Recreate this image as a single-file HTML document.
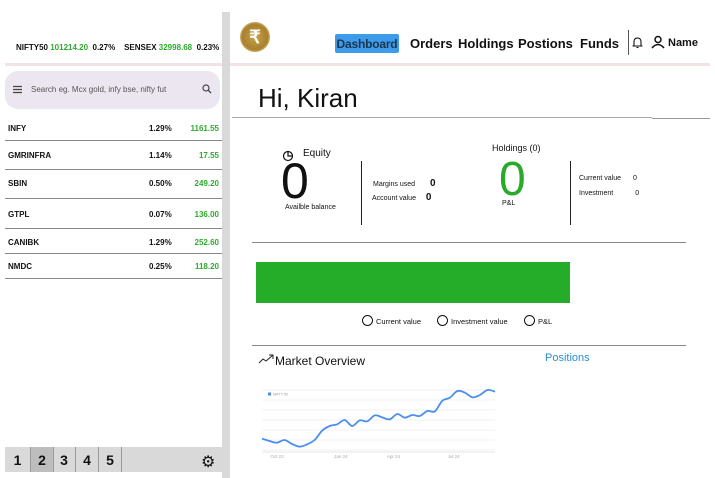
<!DOCTYPE html>
<html><head><meta charset="utf-8"><style>
body{margin:0;width:715px;height:478px;position:relative;overflow:hidden;background:#fff;font-family:"Liberation Sans",sans-serif;color:#111}
.a{position:absolute;white-space:nowrap}
.b{font-weight:bold}
.g{color:#2eaa2e}
.row{position:absolute;left:5px;width:217px;border-bottom:1px solid #888;font-size:8px;font-weight:bold}
.nav{position:absolute;top:36px;font-size:13px;font-weight:bold}
.circ{display:inline-block;width:9px;height:9px;border:1px solid #111;border-radius:50%;vertical-align:-2px;margin-right:3px}
</style></head><body>
<div class="a" style="left:222px;top:12px;width:8px;height:466px;background:#d9d9d9"></div>
<div class="a" style="left:5px;top:63px;width:217px;height:3px;background:#f2e2e4"></div>
<div class="a" style="left:230px;top:63px;width:480px;height:3px;background:#f2e2e4"></div>
<div class="a b" style="left:16px;top:43px;font-size:8px">NIFTY50 <span class="g">101214.20</span>&nbsp; 0.27% &nbsp;&nbsp; SENSEX <span class="g">32998.68</span>&nbsp; 0.23%</div>
<div class="a" style="left:5px;top:71px;width:215px;height:38px;background:#ece6f0;border-radius:13px">
<svg class="a" style="left:7px;top:14px" width="11" height="9"><path d="M1 1.5H10M1 4.5H10M1 7.5H10" stroke="#444" stroke-width="1.2"/></svg>
<div class="a" style="left:26px;top:14px;font-size:8px;color:#555">Search eg. Mcx gold, infy bse, nifty fut</div>
<svg class="a" style="left:197px;top:13px" width="10" height="10"><circle cx="4" cy="4" r="3" fill="none" stroke="#444" stroke-width="1.2"/><path d="M6.3 6.3L9 9" stroke="#444" stroke-width="1.3"/></svg>
</div>
<div class="row" style="top:118px;height:22px"><span class="a" style="left:3px;top:6px">INFY</span><span class="a" style="left:144px;top:6px">1.29%</span><span class="a g" style="right:3px;top:6px">1161.55</span></div>
<div class="row" style="top:141px;height:28px"><span class="a" style="left:3px;top:10px">GMRINFRA</span><span class="a" style="left:144px;top:10px">1.14%</span><span class="a g" style="right:3px;top:10px">17.55</span></div>
<div class="row" style="top:170px;height:28px"><span class="a" style="left:3px;top:9px">SBIN</span><span class="a" style="left:144px;top:9px">0.50%</span><span class="a g" style="right:3px;top:9px">249.20</span></div>
<div class="row" style="top:199px;height:29px"><span class="a" style="left:3px;top:11px">GTPL</span><span class="a" style="left:144px;top:11px">0.07%</span><span class="a g" style="right:3px;top:11px">136.00</span></div>
<div class="row" style="top:229px;height:24px"><span class="a" style="left:3px;top:9px">CANIBK</span><span class="a" style="left:144px;top:9px">1.29%</span><span class="a g" style="right:3px;top:9px">252.60</span></div>
<div class="row" style="top:254px;height:24px"><span class="a" style="left:3px;top:8px">NMDC</span><span class="a" style="left:144px;top:8px">0.25%</span><span class="a g" style="right:3px;top:8px">118.20</span></div>
<div class="a" style="left:5px;top:447px;width:217px;height:25px;background:#d9d9d9;font-size:14px;font-weight:bold">
<div class="a" style="left:0;top:0;width:25px;height:25px;line-height:27px;text-align:center">1</div>
<div class="a" style="left:25px;top:0;width:22px;height:25px;line-height:27px;text-align:center;background:#bdbdbd;border-left:1px solid #999;border-right:1px solid #999">2</div>
<div class="a" style="left:48px;top:0;width:22px;height:25px;line-height:27px;text-align:center;border-right:1px solid #999">3</div>
<div class="a" style="left:71px;top:0;width:22px;height:25px;line-height:27px;text-align:center;border-right:1px solid #999">4</div>
<div class="a" style="left:94px;top:0;width:22px;height:25px;line-height:27px;text-align:center;border-right:1px solid #999">5</div>
<div class="a" style="left:196px;top:5px;font-size:16px;font-weight:normal">⚙</div>
</div>
<div class="a" style="left:240px;top:22px;width:30px;height:30px;border-radius:50%;background:radial-gradient(circle,#c9a24a 0,#a8802e 60%,#e0c27a 75%,#8a6420 100%);color:#fff;font-size:18px;font-weight:bold;text-align:center;line-height:30px">₹</div>
<div class="a" style="left:335px;top:34px;width:64px;height:19px;background:#3d9be9;border-radius:2px;font-size:12px;font-weight:bold;color:#1a3550;text-align:center;line-height:20px;letter-spacing:-0.2px">Dashboard</div>
<div class="nav" style="left:410px">Orders</div>
<div class="nav" style="left:458px">Holdings</div>
<div class="nav" style="left:518px">Postions</div>
<div class="nav" style="left:580px">Funds</div>
<div class="a" style="left:628px;top:30px;width:1px;height:25px;background:#555"></div>
<svg class="a" style="left:632px;top:36px" width="11" height="13"><path d="M2 10V6Q2 2 5.5 2Q9 2 9 6V10H10.5H0.5Z" fill="none" stroke="#111" stroke-width="1.1"/><path d="M4.5 11.5H6.5" stroke="#111" stroke-width="1.1"/></svg>
<svg class="a" style="left:651px;top:35px" width="14" height="14"><circle cx="7" cy="4.5" r="3" fill="none" stroke="#111" stroke-width="1.5"/><path d="M1 13 Q7 6 13 13" fill="none" stroke="#111" stroke-width="1.5"/></svg>
<div class="a b" style="left:668px;top:37px;font-size:11px">Name</div>
<div class="a" style="left:258px;top:83px;font-size:26px">Hi, Kiran</div>
<div class="a" style="left:232px;top:117px;width:420px;height:1px;background:#aaa"></div>
<div class="a" style="left:652px;top:118px;width:58px;height:1px;background:#999"></div>
<svg class="a" style="left:282px;top:150px" width="12" height="12"><circle cx="6" cy="6" r="4.5" fill="none" stroke="#111" stroke-width="1.2"/><path d="M6 1.5V6H10.5" fill="none" stroke="#111" stroke-width="1.2"/></svg>
<div class="a" style="left:303px;top:148px;font-size:10px">Equity</div>
<div class="a" style="left:281px;top:155px;font-size:50px;line-height:52px">0</div>
<div class="a" style="left:285px;top:204px;font-size:7px">Availble balance</div>
<div class="a" style="left:361px;top:161px;width:1px;height:64px;background:#222"></div>
<div class="a" style="left:373px;top:178px;font-size:7px">Margins used <b style="font-size:10px;margin-left:13px">0</b></div>
<div class="a" style="left:372px;top:192px;font-size:7px">Account value <b style="font-size:10px;margin-left:8px">0</b></div>
<div class="a" style="left:492px;top:143px;font-size:9px">Holdings (0)</div>
<div class="a" style="left:499px;top:155px;font-size:48px;line-height:50px;color:#2aaa2a">0</div>
<div class="a" style="left:502px;top:200px;font-size:7px">P&amp;L</div>
<div class="a" style="left:570px;top:161px;width:1px;height:64px;background:#222"></div>
<div class="a" style="left:579px;top:175px;font-size:7px">Current value <span style="margin-left:10px">0</span></div>
<div class="a" style="left:579px;top:190px;font-size:7px">Investment <span style="margin-left:20px">0</span></div>
<div class="a" style="left:252px;top:242px;width:434px;height:1px;background:#888"></div>
<div class="a" style="left:256px;top:262px;width:314px;height:41px;background:#25ad29"></div>
<div class="a" style="left:362px;top:315px;font-size:7.5px"><span class="circ"></span>Current value</div>
<div class="a" style="left:437px;top:315px;font-size:7.5px"><span class="circ"></span>Investment value</div>
<div class="a" style="left:524px;top:315px;font-size:7.5px"><span class="circ"></span>P&amp;L</div>
<div class="a" style="left:252px;top:345px;width:434px;height:1px;background:#888"></div>
<svg class="a" style="left:258px;top:353px" width="17" height="12"><path d="M1 10 L5 6 L8 8 L15 2 M11 2 H15 V6" fill="none" stroke="#222" stroke-width="1"/></svg>
<div class="a" style="left:275px;top:354px;font-size:12px">Market Overview</div>
<div class="a" style="left:545px;top:352px;font-size:11px;color:#2a8fd6">Positions</div>
<svg class="a" id="chart" style="left:0;top:0" width="715" height="478"></svg>
<script>
const values=[34,27,22,30,18,10,17,30,58,72,77,90,72,89,86,104,98,92,108,97,105,102,117,116,148,157,177,172,158,165,180,175];
const xLabels=["Oct 23","Jan 24","Apr 24","Jul 24"];
const xLabelIdx=[2,10.5,17.5,25.5];
const gridVals=[0,30,60,90,120,150,180];
const svg=document.getElementById('chart');const NS='http://www.w3.org/2000/svg';
const X0=262,X1=495,Y0=450,Y1=390,VMAX=180;
const xs=i=>X0+i*(X1-X0)/(values.length-1);
const ys=v=>Y0-(v/VMAX)*(Y0-Y1);
function mk(t,a){const e=document.createElementNS(NS,t);for(const k in a)e.setAttribute(k,a[k]);svg.appendChild(e);return e;}
gridVals.forEach(v=>{const l=mk('line',{x1:X0,x2:X1,y1:ys(v),y2:ys(v),stroke:'#eee','stroke-width':0.7});

});
const bl=mk('line',{x1:X0,x2:X1,y1:452,y2:452,stroke:'#ddd','stroke-width':0.7});


xLabels.forEach((t,i)=>{const e=mk('text',{x:xs(xLabelIdx[i]),y:458,'font-size':4.5,fill:'#aaa','text-anchor':'middle','font-family':'Liberation Sans'});e.textContent=t;

});
const p=values.map((v,i)=>[xs(i),ys(v)]);
let d='M'+p[0][0]+' '+p[0][1];
for(let i=0;i<p.length-1;i++){const a=p[Math.max(i-1,0)],b=p[i],c=p[i+1],e=p[Math.min(i+2,p.length-1)];
d+=' C'+(b[0]+(c[0]-a[0])/6)+' '+(b[1]+(c[1]-a[1])/6)+' '+(c[0]-(e[0]-b[0])/6)+' '+(c[1]-(e[1]-b[1])/6)+' '+c[0]+' '+c[1];}
const ln=mk('path',{d:d,fill:'none',stroke:'#4a8ff0','stroke-width':1.8});


const sq=mk('rect',{x:268,y:392.5,width:3,height:3,fill:'#4a8ff0'});


const lt=mk('text',{x:273,y:395.5,'font-size':3.5,fill:'#999','font-family':'Liberation Sans'});lt.textContent='NIFTY 50';


</script>
</body></html>
